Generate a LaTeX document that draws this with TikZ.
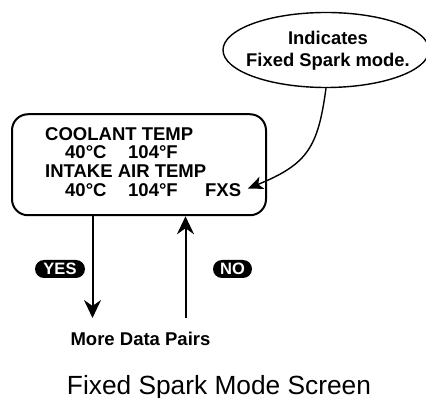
\documentclass[tikz,border=0pt]{standalone}
\usepackage{fontspec}
\setmainfont{Liberation Sans}
\usepackage{tikz}
\usetikzlibrary{shapes.geometric,arrows.meta,positioning,calc}
\tikzset{
  SCR/.style={draw, rectangle, rounded corners=16pt, line width=2pt,
              minimum width=254pt, minimum height=101pt, inner sep=0pt},
  NOTE/.style={draw, ellipse, line width=1.4pt,
               minimum width=206pt, minimum height=75pt, inner sep=0pt},
  LN/.style={anchor=base west, inner sep=0pt,
             font=\bfseries\fontsize{18.5pt}{22pt}\selectfont},
  NL/.style={anchor=base, inner sep=0pt,
             font=\bfseries\fontsize{18.4pt}{22pt}\selectfont},
  KEY/.style={fill=black, text=white, rounded corners=9pt,
              minimum height=18pt, inner sep=0pt,
              font=\bfseries\fontsize{16.5pt}{18pt}\selectfont},
  SA/.style={-{Stealth[length=18pt,width=17pt,inset=6pt]}, line width=2pt},
  CA/.style={-{Stealth[length=15pt,width=13pt,inset=4pt]}, line width=1.4pt}
}

\begin{document}
\begin{tikzpicture}[x=1pt, y=-1pt]
\useasboundingbox (0,0) rectangle (426,398);

% ---- Callout ----
\node[NOTE] (note) at (326,50) {};
\node[NL] (noteA) at (328,45) {Indicates};
\node[NL] (noteB) at (328,67) {Fixed Spark mode.};

% ---- Screen ----
\node[SCR] (screen) at (139,164.75) {};
\node[LN] (ct)    at (45,141) {COOLANT TEMP};
\node[LN] (ctval) at (65,159) {\makebox[63pt][l]{40°C}104°F};
\node[LN] (iat)   at (45,178) {INTAKE AIR TEMP};
\node[LN] (iatval) at (65,197)
    {\makebox[63pt][l]{40°C}\makebox[77pt][l]{104°F}FXS};
\coordinate (fxstip) at (248,188.5);

% ---- Keys ----
\node[KEY, minimum width=50pt] (yes) at (60,269) {YES};
\node[KEY, minimum width=39pt] (no)  at (232.5,269) {NO};
\coordinate (yesend)  at (92.5,318);
\coordinate (nostart) at (185.5,318);

% ---- Captions ----
\node[NL, font=\bfseries\fontsize{18.5pt}{22pt}\selectfont] (more)
    at (140.5,345) {More Data Pairs};
\node[anchor=base, inner sep=0pt,
      font=\fontsize{26.3pt}{30pt}\selectfont] (title) at (219,394)
    {Fixed Spark Mode Screen};

% ---- Arrows ----
\draw[CA] (note.south) .. controls (318,147) and (308,164) .. (fxstip);
\draw[SA] (screen.south -| yesend) -- (yesend);
\draw[SA] (nostart) -- (nostart |- screen.south);

\end{tikzpicture}
\end{document}
